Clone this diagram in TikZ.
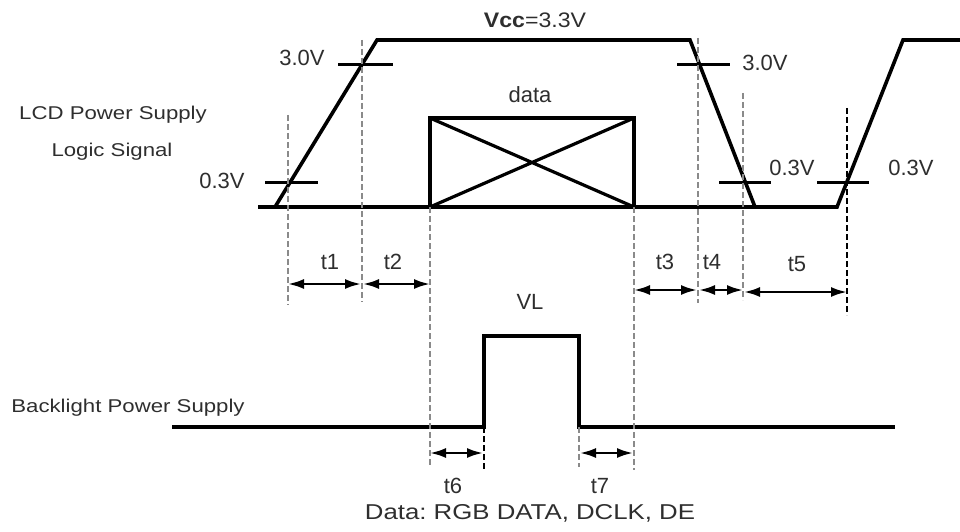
\documentclass[tikz,border=0pt]{standalone}
\usepackage{fontspec}
\setmainfont{Liberation Sans}
\usetikzlibrary{arrows.meta}
\definecolor{txt}{HTML}{2E2E2E}
\definecolor{guide}{HTML}{8A8A8A}
\frenchspacing
\newcommand{\wideA}[1]{\scalebox{1.2}[1]{#1}}
\newcommand{\wideB}[1]{\scalebox{1.2}[1]{#1}}
\begin{document}
\begin{tikzpicture}[x=1pt,y=-1pt,
  sig/.style={line width=3.6pt,line join=miter,black},
  tick/.style={line width=3pt,black},
  guideg/.style={line width=1.8pt,guide,dash pattern=on 6pt off 3pt},
  guidek/.style={line width=1.8pt,black,dash pattern=on 6pt off 3pt},
  dim/.style={line width=2.4pt,black,{Latex[length=16pt,width=10pt]}-{Latex[length=16pt,width=10pt]}},
  lbl/.style={text=txt,inner sep=0pt,font=\fontsize{22}{24}\selectfont},
  side/.style={text=txt,inner sep=0pt,font=\fontsize{18.5}{20}\selectfont}]
\useasboundingbox (0,0) rectangle (960,532);
% top signal points
\coordinate (s0) at (258,207);
\coordinate (s1) at (275,207);
\coordinate (s2) at (377,40);
\coordinate (s3) at (690,40);
\coordinate (s4) at (755,207);
\coordinate (s5) at (837,207);
\coordinate (s6) at (903,40);
\coordinate (s7) at (960,40);
\draw[sig] (s0) -- (s4);
\draw[sig] (s1) -- (s2) -- (s3) -- (s4) -- (s5) -- (s6) -- (s7);
% data box
\coordinate (bl) at (430,207);
\coordinate (br) at (634,207);
\coordinate (tl) at (430,118);
\coordinate (tr) at (634,118);
\draw[sig] (bl) -- (tl) -- (tr) -- (br);
\draw[line width=3.2pt] (tl) -- (br) (bl) -- (tr);
% threshold ticks
\coordinate (k1a) at (338,65); \coordinate (k1b) at (393,65);
\coordinate (k2a) at (265,182); \coordinate (k2b) at (318,182);
\coordinate (k3a) at (677,65); \coordinate (k3b) at (730,65);
\coordinate (k4a) at (719,182); \coordinate (k4b) at (771,182);
\coordinate (k5a) at (817,182); \coordinate (k5b) at (869,182);
\draw[tick] (k1a) -- (k1b) (k2a) -- (k2b) (k3a) -- (k3b) (k4a) -- (k4b) (k5a) -- (k5b);
% bottom signal
\coordinate (b0) at (172,427);
\coordinate (b1) at (484,427);
\coordinate (b2) at (484,336);
\coordinate (b3) at (579,336);
\coordinate (b4) at (579,427);
\coordinate (b5) at (895,427);
\draw[sig] (b0) -- (b1) -- (b2) -- (b3) -- (b4) -- (b5);
% guide lines
\coordinate (g1a) at (288,115); \coordinate (g1b) at (288,305);
\coordinate (g2a) at (362,40);  \coordinate (g2b) at (362,302);
\coordinate (g3b) at (430,466);
\coordinate (g4b) at (634,470);
\coordinate (g5a) at (698,38);  \coordinate (g5b) at (698,303);
\coordinate (g6a) at (743,93);  \coordinate (g6b) at (743,300);
\coordinate (g7a) at (847,108); \coordinate (g7b) at (847,315);
\coordinate (g8b) at (484,470);
\coordinate (g9b) at (579,467);
\draw[guideg] (g1a) -- (g1b);
\draw[guideg] (g2a) -- (g2b);
\draw[guideg] (bl) -- (g3b);
\draw[guideg] (br) -- (g4b);
\draw[guideg] (g5a) -- (g5b);
\draw[guideg] (g6a) -- (g6b);
\draw[guidek] (g7a) -- (g7b);
\draw[guidek] (b1) -- (g8b);
\draw[guideg] (b4) -- (g9b);
% dimension arrows
\coordinate (a1l) at (288,284); \coordinate (a1r) at (361,284);
\coordinate (a2l) at (363,284); \coordinate (a2r) at (430,284);
\coordinate (a3l) at (634,290); \coordinate (a3r) at (697,290);
\coordinate (a4l) at (699,290); \coordinate (a4r) at (743,290);
\coordinate (a5l) at (744,292); \coordinate (a5r) at (847,292);
\coordinate (a6l) at (430,453); \coordinate (a6r) at (483,453);
\coordinate (a7l) at (580,453); \coordinate (a7r) at (633,453);
\draw[dim] (a1l) -- (a1r);
\draw[dim] (a2l) -- (a2r);
\draw[dim] (a3l) -- (a3r);
\draw[dim] (a4l) -- (a4r);
\draw[dim] (a5l) -- (a5r);
\draw[dim] (a6l) -- (a6r);
\draw[dim] (a7l) -- (a7r);
% labels
\node[lbl,font=\fontsize{21}{24}\selectfont] (vcc) at (535,20) {\scalebox{1.1}[1]{\textbf{Vcc}=3.3V}};
\node[lbl] (v30l) at (302,58) {3.0V};
\node[lbl] (v03l) at (222,181) {0.3V};
\node[lbl] (v30r) at (765,63) {3.0V};
\node[lbl] (v03a) at (792,168) {0.3V};
\node[lbl] (v03b) at (911,168) {0.3V};
\node[lbl] (data) at (530,95) {data};
\node[lbl] (t1) at (330,262) {t1};
\node[lbl] (t2) at (393,262) {t2};
\node[lbl] (t3) at (665,262) {t3};
\node[lbl] (t4) at (712,262) {t4};
\node[lbl] (t5) at (797,264) {t5};
\node[lbl] (t6) at (453,486) {t6};
\node[lbl] (t7) at (600,486) {t7};
\node[lbl] (vl) at (530,302) {VL};
\node[side] (lcd) at (113,115) {\wideA{LCD Power Supply}};
\node[side] (logic) at (112,152) {\wideA{Logic Signal}};
\node[side] (bkl) at (128,408) {\wideA{Backlight Power Supply}};
\node[lbl,font=\fontsize{21.5}{24}\selectfont] (cap) at (530,513) {\wideB{Data: RGB DATA, DCLK, DE}};
\end{tikzpicture}
\end{document}
